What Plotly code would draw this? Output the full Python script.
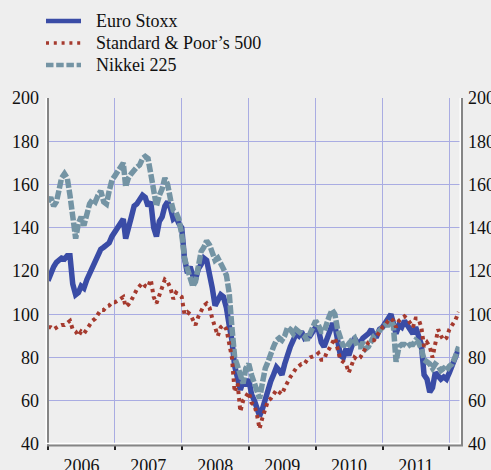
import plotly.graph_objects as go

# semi-monthly observation dates (1st and 16th of each month), Jan 2006 - Feb 2012
dates = []
for y in range(2006, 2013):
    for m in range(1, 13):
        for d in (1, 16):
            if (y, m) > (2012, 2):
                break
            dates.append(f"{y}-{m:02d}-{d:02d}")
dates.append("2012-02-21")

euro_stoxx = [
    # 2006
    115.5, 119, 122, 124, 125, 126, 125.5, 127, 127, 114, 109, 110,
    113, 112, 116, 119, 121, 124, 127, 130, 131, 132, 133, 136,
    # 2007
    138, 140, 143, 144, 135, 139, 145, 150, 151, 153, 155, 154,
    150, 152, 140, 136, 143, 145, 150, 152, 149, 144, 145, 142,
    # 2008
    140, 126, 119, 122, 118, 116, 121, 123, 126, 125, 119, 112,
    104, 106, 109, 108, 103, 95, 88, 76, 71, 65, 69, 67,
    # 2009
    70, 63, 60, 57, 53, 56, 61, 65, 69, 72, 75.5, 74,
    72, 77, 82, 85, 88, 91, 90, 92, 89, 90, 90, 92,
    # 2010
    94, 93, 87, 85, 88, 92, 95, 95, 86, 81, 80, 84,
    81, 86, 89, 87, 87, 89, 90, 91, 93, 90, 90, 93,
    # 2011
    94, 96, 98, 100, 96, 91, 95, 94, 97, 95, 94, 91,
    94, 89, 86, 72, 70, 64, 66, 73, 71, 70, 71, 70,
    # 2012
    73, 76, 79, 82, 84,
]

sp500 = [
    # 2006
    94, 94, 93, 94, 94.5, 95, 95, 96, 97, 93, 92, 90,
    92, 91, 93, 95, 97, 98, 100, 102, 102, 103.5, 104, 105.5,
    # 2007
    105.5, 106.5, 107, 108, 103.5, 104.5, 106.5, 109.5, 111.5, 113, 114.5, 113,
    112.5, 116, 108, 105, 109, 113, 116, 115, 112, 107, 110, 109,
    # 2008
    108, 100, 101, 100, 98, 95, 99, 102, 104, 105, 103, 98,
    94, 90, 94, 95, 93, 87, 80, 64, 68, 55, 60, 62,
    # 2009
    64, 59, 58, 53, 47, 52, 57, 60, 61, 63, 65, 64,
    63, 66, 69, 71, 73, 75, 76, 77, 77, 79, 80, 80.5,
    # 2010
    81, 82, 79, 79, 82, 84, 87, 89, 84, 79, 78, 77,
    73, 76, 80, 79, 80, 82, 85, 87, 88, 88, 90, 92,
    # 2011
    94, 95, 97, 98, 97, 94, 97, 98, 99, 98, 96, 94,
    98, 98, 94, 85, 87, 85, 80, 86, 93, 90, 88, 89,
    # 2012
    93, 95, 97, 100, 101,
]

nikkei_225 = [
    # 2006
    152, 154, 150, 152, 157, 163, 165, 163, 155, 145, 135, 142,
    145, 141, 146, 151, 153, 152, 155, 157, 152, 151, 157, 162,
    # 2007
    164, 166, 168, 170, 159, 163, 165, 167, 168, 169, 172, 173,
    172, 165, 158, 150, 155, 158, 163, 160, 153, 148, 147, 144,
    # 2008
    137, 126, 121, 117, 113, 115, 124, 129, 131, 134, 132, 128,
    125, 126, 124, 121, 118, 110, 94, 80, 76, 72, 68, 75,
    # 2009
    77, 72, 68, 64, 61, 68, 75, 78, 82, 85, 88, 89,
    88, 90, 94, 93, 91, 93, 92, 91, 90, 88, 91, 95,
    # 2010
    97, 95, 92, 92, 96, 99, 102, 100, 93, 88, 85, 87,
    86, 88, 89, 85, 85, 87, 84, 85, 88, 90, 91, 93,
    # 2011
    94, 95, 95, 97, 95, 78, 85, 86, 86, 85, 86, 86,
    88, 87, 84, 79, 78, 77, 75, 77, 76, 74, 75, 74,
    # 2012
    76, 77, 80, 84, 85,
]

series_names = ["Euro Stoxx", "Standard & Poor\u2019s 500", "Nikkei 225"]
y_ticks = [40, 60, 80, 100, 120, 140, 160, 180, 200]

C_EURO = "#3a4ca6"
C_SP = "#a53a2e"
C_NIK = "#7494a4"
GRID = "#a9ace2"
BG = "#eeeeee"
FONT = "Liberation Serif, Times New Roman, serif"

fig = go.Figure()
fig.add_trace(go.Scatter(x=dates, y=euro_stoxx, mode="lines", name=series_names[0],
                         line=dict(color=C_EURO, width=5.5), showlegend=False))
fig.add_trace(go.Scatter(x=dates, y=nikkei_225, mode="lines", name=series_names[2],
                         line=dict(color=C_NIK, width=5.5, dash="9px,2px"), showlegend=False))
fig.add_trace(go.Scatter(x=dates, y=sp500, mode="lines", name=series_names[1], yaxis="y2",
                         line=dict(color=C_SP, width=4, dash="3.5px,4px"), showlegend=False))

W, H = 491, 470
L, R, T, B = 48, 29, 98, 26
pw, ph = W - L - R, H - T - B


def px_x(p):
    return (p - L) / pw


def px_y(p):
    return (H - B - p) / ph


shapes = []
# embossed axis frame: white highlight then grey line
shapes.append(dict(type="line", xref="paper", yref="paper", x0=px_x(46.2), x1=px_x(46.2), y0=0, y1=1,
                   line=dict(color="white", width=1.5), layer="above"))
shapes.append(dict(type="line", xref="paper", yref="paper", x0=px_x(48), x1=px_x(48), y0=px_y(446), y1=1,
                   line=dict(color="#858585", width=2), layer="above"))
shapes.append(dict(type="line", xref="paper", yref="paper", x0=px_x(460.3), x1=px_x(460.3), y0=0, y1=1,
                   line=dict(color="white", width=1.5), layer="above"))
shapes.append(dict(type="line", xref="paper", yref="paper", x0=px_x(462), x1=px_x(462), y0=px_y(446), y1=1,
                   line=dict(color="#858585", width=2), layer="above"))
shapes.append(dict(type="line", xref="paper", yref="paper", x0=px_x(46.2), x1=px_x(460.3), y0=px_y(443.6), y1=px_y(443.6),
                   line=dict(color="white", width=1.5), layer="above"))
shapes.append(dict(type="line", xref="paper", yref="paper", x0=px_x(47), x1=px_x(463), y0=px_y(445.5), y1=px_y(445.5),
                   line=dict(color="#858585", width=2), layer="above"))

# legend
legend_rows = [(21, C_EURO, "solid", 4.5), (43, C_SP, "3px,4.8px", 3.5), (65, C_NIK, "7.5px,2.7px", 4.5)]
annotations = []
for (py, col, dash, wd), name in zip(legend_rows, series_names):
    shapes.append(dict(type="line", xref="paper", yref="paper", x0=px_x(46), x1=px_x(81),
                       y0=px_y(py), y1=px_y(py), line=dict(color=col, width=wd, dash=dash)))
    annotations.append(dict(xref="paper", yref="paper", x=px_x(94), y=px_y(py), text=name,
                            showarrow=False, xanchor="left", yanchor="middle",
                            font=dict(family=FONT, size=18, color="#111111")))

fig.update_layout(
    width=W, height=H,
    margin=dict(l=L, r=R, t=T, b=B, pad=0, autoexpand=False),
    paper_bgcolor=BG, plot_bgcolor=BG,
    font=dict(family=FONT, size=18, color="#111111"),
    showlegend=False,
    shapes=shapes,
    annotations=annotations,
    xaxis=dict(type="date", range=["2006-01-01", "2012-03-10"], automargin=False,
               tick0="2006-01-01", dtick="M12", tickformat="%Y", ticklabelmode="period",
               showgrid=True, gridcolor=GRID, gridwidth=1,
               ticks="outside", ticklen=5, tickwidth=1.5, tickcolor="#222222",
               showline=False, zeroline=False, ticklabelstandoff=0,
               tickfont=dict(family=FONT, size=18, color="#111111")),
    yaxis=dict(range=[40, 200], tickvals=y_ticks, showgrid=True, gridcolor=GRID, gridwidth=1,
               ticks="", showline=False, zeroline=False, ticklabelstandoff=8, automargin=False,
               tickfont=dict(family=FONT, size=18, color="#111111")),
    yaxis2=dict(range=[40, 200], tickvals=y_ticks, overlaying="y", side="right", automargin=False,
                showgrid=False, ticks="", showline=False, zeroline=False, ticklabelstandoff=5,
                tickfont=dict(family=FONT, size=18, color="#111111")),
)

fig.write_html("out.html", config={"displayModeBar": False},
               post_script="document.body.style.margin='0';document.body.style.padding='0';"
                           "document.body.style.background='#eeeeee';")
